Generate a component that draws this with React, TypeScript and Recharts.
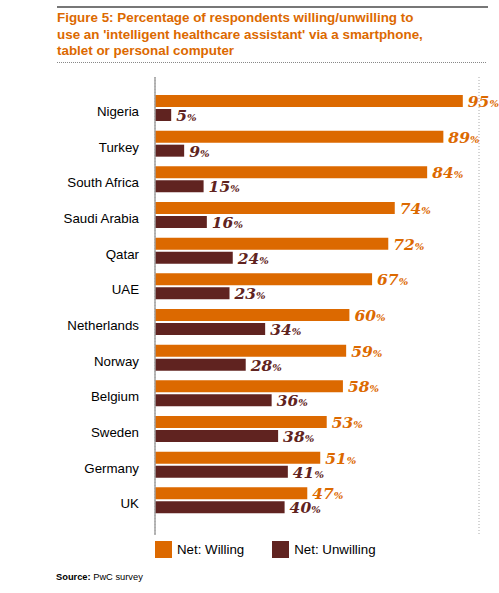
import { BarChart, Bar, XAxis, YAxis, CartesianGrid, LabelList } from "recharts";

const countries = [
  "Nigeria",
  "Turkey",
  "South Africa",
  "Saudi Arabia",
  "Qatar",
  "UAE",
  "Netherlands",
  "Norway",
  "Belgium",
  "Sweden",
  "Germany",
  "UK",
];
const willing = [95, 89, 84, 74, 72, 67, 60, 59, 58, 53, 51, 47];
const unwilling = [5, 9, 15, 16, 24, 23, 34, 28, 36, 38, 41, 40];
const xTicks = [0, 10, 20, 30, 40, 50, 60, 70, 80, 90, 100];

const ORANGE = "#dc6900";
const BROWN = "#602320";

const data = countries.map((c, i) => ({
  country: c,
  willing: willing[i],
  unwilling: unwilling[i],
}));

const sans = "Arial, 'Liberation Sans', Helvetica, sans-serif";

function makeLabel(color: string) {
  return (props: any) => {
    const { x, y, width, height, value } = props;
    return (
      <text
        x={x + width + 5}
        y={y + height / 2 + 6}
        fill={color}
        fontFamily="Georgia, 'DejaVu Serif', serif"
        fontWeight="bold"
        fontStyle="italic"
      >
        <tspan fontSize={15.5}>{value}</tspan>
        <tspan fontSize={10}>%</tspan>
      </text>
    );
  };
}

function CountryTick(props: any) {
  const { x, y, payload } = props;
  return (
    <text
      x={x}
      y={y + 8}
      textAnchor="end"
      fill="#000"
      fontSize={13.3}
      fontFamily={sans}
    >
      {payload.value}
    </text>
  );
}

export default function App() {
  return (
    <div
      style={{
        position: "absolute",
        left: 0,
        top: 0,
        width: 499,
        height: 593,
        background: "#fff",
        fontFamily: sans,
      }}
    >
      <div
        style={{
          position: "absolute",
          left: 57,
          top: 6,
          width: 431,
          height: 2,
          background: "#777",
        }}
      />
      <div
        style={{
          position: "absolute",
          left: 57,
          top: 10,
          width: 440,
          color: ORANGE,
          fontWeight: "bold",
          fontSize: 13.4,
          lineHeight: "16.5px",
        }}
      >
        Figure 5: Percentage of respondents willing/unwilling to
        <br />
        use an 'intelligent healthcare assistant' via a smartphone,
        <br />
        tablet or personal computer
      </div>
      <div
        style={{
          position: "absolute",
          left: 57,
          top: 62,
          width: 429,
          borderTop: "1px dotted #888",
        }}
      />
      <div style={{ position: "absolute", left: 0, top: 0 }}>
        <BarChart
          width={499}
          height={593}
          data={data}
          layout="vertical"
          margin={{ top: 77, right: 20, bottom: 58, left: 0 }}
          barSize={12}
          barGap={2}
        >
          <CartesianGrid
            horizontal={false}
            stroke="#aaaaaa"
            strokeDasharray="1 2"
          />
          <XAxis
            type="number"
            domain={[0, 100]}
            ticks={xTicks}
            axisLine={false}
            tickLine={false}
            tick={false}
            height={0}
          />
          <YAxis
            type="category"
            dataKey="country"
            width={155}
            padding={{ top: 13, bottom: 17 }}
            axisLine={{ stroke: "#a0a0a0", strokeWidth: 1.5 }}
            tickLine={false}
            tickSize={6}
            tickMargin={10}
            tick={<CountryTick />}
          />
          <Bar dataKey="willing" fill={ORANGE} isAnimationActive={false}>
            <LabelList dataKey="willing" content={makeLabel(ORANGE)} />
          </Bar>
          <Bar dataKey="unwilling" fill={BROWN} isAnimationActive={false}>
            <LabelList dataKey="unwilling" content={makeLabel(BROWN)} />
          </Bar>
        </BarChart>
      </div>
      <div
        style={{
          position: "absolute",
          left: 155,
          top: 541,
          display: "flex",
          alignItems: "center",
          fontSize: 13.3,
          color: "#000",
        }}
      >
        <div style={{ width: 17, height: 17, background: ORANGE }} />
        <span style={{ marginLeft: 5, marginRight: 28 }}>Net: Willing</span>
        <div style={{ width: 17, height: 17, background: BROWN }} />
        <span style={{ marginLeft: 5 }}>Net: Unwilling</span>
      </div>
      <div
        style={{
          position: "absolute",
          left: 56,
          top: 572,
          fontSize: 9.3,
          color: "#000",
        }}
      >
        <b>Source:</b> PwC survey
      </div>
    </div>
  );
}
